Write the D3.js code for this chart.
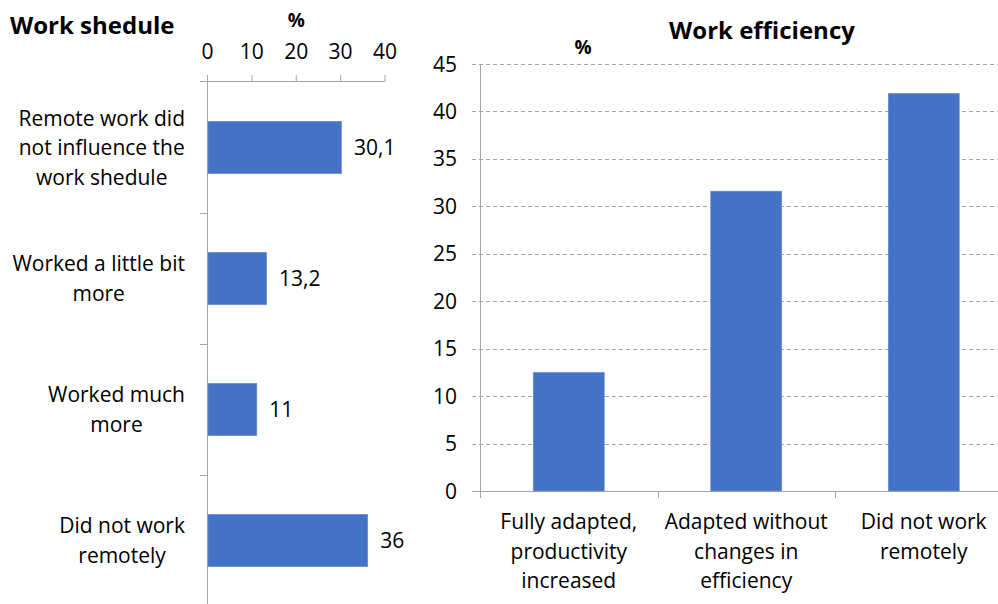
<!DOCTYPE html>
<html><head><meta charset="utf-8">
<script src="https://cdn.jsdelivr.net/npm/d3@7"></script>
<style>
html,body{margin:0;padding:0;background:#fff;overflow:hidden;}
text{font-family:"Open Sans",sans-serif;fill:#000;}
</style></head><body>
<svg id="c" width="998" height="604"></svg>
<script>
// Left chart: Work schedule
const scheduleCategories = [
  ["Remote work did","not influence the","work shedule"],
  ["Worked a little bit","more"],
  ["Worked much","more"],
  ["Did not work","remotely"]
];
const scheduleValues = [30.1, 13.2, 11, 36];
const scheduleLabels = ["30,1", "13,2", "11", "36"];
const scheduleTicks = [0, 10, 20, 30, 40];

// Right chart: Work efficiency
const efficiencyCategories = [
  ["Fully adapted,","productivity","increased"],
  ["Adapted without","changes in","efficiency"],
  ["Did not work","remotely"]
];
const efficiencyValues = [12.5, 31.6, 41.9];
const efficiencyTicks = [0, 5, 10, 15, 20, 25, 30, 35, 40, 45];

const BLUE = "#4472C4", AXIS = "#a6a6a6", GRID = "#a6a6a6";
const FS = 21;
const TFS = 24;
const DY = 7.5;
const svg = d3.select("#c");

// ---------- LEFT ----------
{
  const g = svg.append("g");
  const x = d3.scaleLinear().domain([0, 40]).range([207.5, 385]);
  const y = d3.scaleBand().domain(d3.range(scheduleValues.length)).range([82, 606]).padding(0);
  const axisY = 81.5;
  g.append("text").attr("x", 10).attr("y", 33.5).attr("font-weight", "bold").attr("font-size", TFS).text("Work shedule");
  g.append("text").attr("x", x(20)).attr("y", 27).attr("text-anchor", "middle").attr("font-weight", "bold").attr("font-size", FS - 2).text("%");
  // top axis
  g.append("line").attr("x1", 200).attr("x2", x(40)).attr("y1", axisY).attr("y2", axisY).attr("stroke", AXIS);
  scheduleTicks.forEach(t => {
    g.append("line").attr("x1", x(t)).attr("x2", x(t)).attr("y1", axisY).attr("y2", 75).attr("stroke", AXIS);
    g.append("text").attr("x", x(t)).attr("y", 51.5 + DY).attr("text-anchor", "middle").attr("font-size", FS).text(t);
  });
  // vertical axis
  g.append("line").attr("x1", x(0)).attr("x2", x(0)).attr("y1", axisY).attr("y2", 606).attr("stroke", AXIS);
  d3.range(1, scheduleValues.length).forEach(i => {
    const yy = Math.round(y(i)) + 0.5;
    g.append("line").attr("x1", 200).attr("x2", x(0)).attr("y1", yy).attr("y2", yy).attr("stroke", AXIS);
  });
  const bh = y.bandwidth() * 0.4;
  scheduleValues.forEach((v, i) => {
    const cy = y(i) + y.bandwidth() / 2;
    g.append("rect").attr("x", x(0) + 0.5).attr("y", cy - bh / 2).attr("width", x(v) - x(0)).attr("height", bh)
      .attr("fill", BLUE).attr("stroke", "#6a8fd3").attr("stroke-width", 0.6);
    g.append("text").attr("x", x(v) + 13).attr("y", cy + DY).attr("font-size", FS).text(scheduleLabels[i]);
    const lines = scheduleCategories[i];
    const lh = 29.5;
    const texts = lines.map((l, k) =>
      g.append("text").attr("y", cy + DY + (k - (lines.length - 1) / 2) * lh)
        .attr("text-anchor", "middle").attr("font-size", FS).text(l));
    const maxW = d3.max(texts, t => t.node().getComputedTextLength());
    texts.forEach(t => t.attr("x", 185 - maxW / 2));
  });
}

// ---------- RIGHT ----------
{
  const g = svg.append("g");
  const x = d3.scaleBand().domain(d3.range(efficiencyValues.length)).range([480, 1012.5]).padding(0);
  const y = d3.scaleLinear().domain([0, 45]).range([491, 64]);
  g.append("text").attr("x", 762).attr("y", 39).attr("text-anchor", "middle").attr("font-weight", "bold").attr("font-size", TFS).text("Work efficiency");
  g.append("text").attr("x", 583).attr("y", 54).attr("text-anchor", "middle").attr("font-weight", "bold").attr("font-size", FS - 2).text("%");
  efficiencyTicks.forEach(t => {
    const yy = Math.round(y(t)) + 0.5;
    if (t > 0) g.append("line").attr("x1", 472).attr("x2", 1012).attr("y1", yy).attr("y2", yy)
      .attr("stroke", GRID).attr("stroke-dasharray", "4,3");
    g.append("text").attr("x", 457).attr("y", y(t) + DY).attr("text-anchor", "end").attr("font-size", FS).text(t);
  });
  // axes
  g.append("line").attr("x1", 480.5).attr("x2", 480.5).attr("y1", y(45)).attr("y2", y(0)).attr("stroke", AXIS);
  g.append("line").attr("x1", 472).attr("x2", 1012).attr("y1", 491.5).attr("y2", 491.5).attr("stroke", AXIS);
  d3.range(0, efficiencyValues.length + 1).forEach(i => {
    const xx = Math.round(i < efficiencyValues.length ? x(i) : x(i - 1) + x.bandwidth()) + 0.5;
    g.append("line").attr("x1", xx).attr("x2", xx).attr("y1", 491).attr("y2", 498).attr("stroke", AXIS);
  });
  const bw = x.bandwidth() * 0.4;
  efficiencyValues.forEach((v, i) => {
    const cx = x(i) + x.bandwidth() / 2;
    g.append("rect").attr("x", cx - bw / 2).attr("y", y(v)).attr("width", bw).attr("height", y(0) - y(v))
      .attr("fill", BLUE).attr("stroke", "#6a8fd3").attr("stroke-width", 0.6);
    efficiencyCategories[i].forEach((l, k) => {
      g.append("text").attr("x", cx).attr("y", 521.7 + DY + k * 29.3).attr("text-anchor", "middle").attr("font-size", FS).text(l);
    });
  });
}
</script>
</body></html>
